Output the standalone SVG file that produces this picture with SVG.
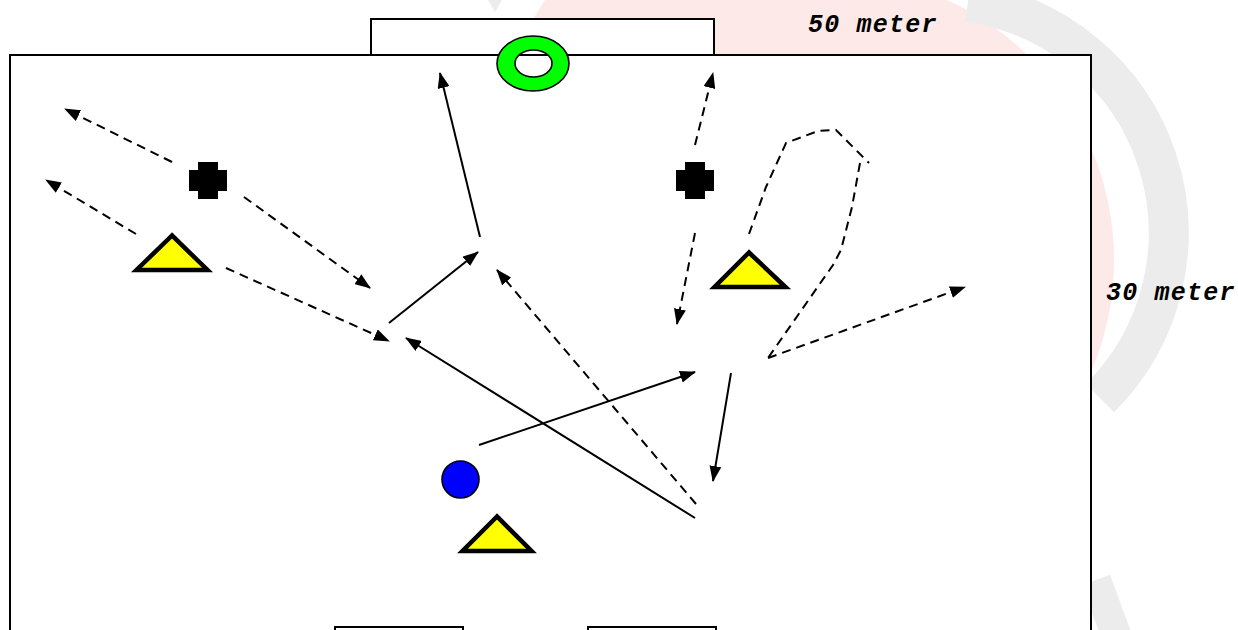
<svg xmlns="http://www.w3.org/2000/svg" width="1238" height="630" viewBox="0 0 1238 630">
<defs>
<style>
.ln{fill:none;stroke:#000;stroke-width:2}
.ds{fill:none;stroke:#000;stroke-width:2;stroke-dasharray:9 6}
.ar{marker-end:url(#ah)}
.tri{fill:#ffff00;stroke:#000;stroke-width:4.5;stroke-linejoin:miter}
.crs{fill:#000}
.box{fill:#fff;stroke:#000;stroke-width:2}
.lbl{font-family:"Liberation Mono","Courier New",monospace;font-weight:bold;font-style:italic;font-size:25px;letter-spacing:1.2px;fill:#000}
</style>
<marker id="ah" viewBox="0 0 16 12" refX="15" refY="6" markerWidth="16" markerHeight="12" markerUnits="userSpaceOnUse" orient="auto">
<path d="M0,0 L16,6 L0,12 Z" fill="#000"/>
</marker>
</defs>
<rect width="1238" height="630" fill="#fff"/>
<g id="watermark">
<circle cx="828" cy="260" r="286" fill="#fdeae8"/>
<path d="M545,0 L760,0 L700,120 L520,40 Z" fill="#fdeae8"/>
<path d="M488,0 L502,0 L495,12 Z" fill="#ececec"/>
<path d="M968,2 A233,233 0 0 1 1100,398" fill="none" stroke="#ececec" stroke-width="40"/>
<path d="M1096,580 L1118,640" fill="none" stroke="#ececec" stroke-width="30"/>
</g>
<g id="field"><rect class="box" x="10" y="55" width="1081" height="620"/></g>
<g id="goal-top"><rect class="box" x="371" y="19" width="343" height="36"/></g>
<g id="goal-bottom-left"><rect class="box" x="335" y="627" width="128" height="20"/></g>
<g id="goal-bottom-right"><rect class="box" x="588" y="627" width="128" height="20"/></g>
<g id="ring"><path d="M497,63.5 a36,27.5 0 1 0 72,0 a36,27.5 0 1 0 -72,0 Z M515,63.5 a18.5,13.5 0 1 0 37,0 a18.5,13.5 0 1 0 -37,0 Z" fill="#00ff00" fill-rule="evenodd" stroke="#000" stroke-width="1.6"/></g>
<g id="cross-left"><path class="crs" d="M198,162 H218 V170 H227 V191 H218 V199 H198 V191 H189 V170 H198 Z"/></g>
<g id="cross-right"><path class="crs" d="M685,162 H705 V170 H714 V191 H705 V199 H685 V191 H676 V170 H685 Z"/></g>
<g id="cone-left"><polygon class="tri" points="172,235.5 136.5,270 207.5,270"/></g>
<g id="cone-right"><polygon class="tri" points="749,252.5 714.5,287 785.5,287"/></g>
<g id="cone-bottom"><polygon class="tri" points="497,516.5 462.5,551 531.5,551"/></g>
<g id="ball"><circle cx="460.5" cy="479.5" r="18.5" fill="#0000ff" stroke="#000" stroke-width="1.6"/></g>
<g id="connectors">
<line class="ds ar" x1="172" y1="162" x2="65" y2="109"/>
<line class="ds ar" x1="136" y1="234" x2="46" y2="180"/>
<line class="ds ar" x1="244" y1="197" x2="370" y2="288"/>
<line class="ds ar" x1="226" y1="268" x2="389" y2="341"/>
<line class="ln ar" x1="389" y1="323" x2="478" y2="252"/>
<line class="ln ar" x1="480" y1="237" x2="440" y2="73"/>
<line class="ds ar" x1="696" y1="504" x2="497" y2="270"/>
<line class="ln ar" x1="695" y1="518" x2="406" y2="338"/>
<line class="ln ar" x1="479" y1="445" x2="695" y2="372"/>
<line class="ln ar" x1="731" y1="373" x2="713" y2="481"/>
<line class="ds ar" x1="695" y1="145" x2="713" y2="73"/>
<line class="ds ar" x1="695" y1="233" x2="677" y2="324"/>
<path class="ds" d="M749,234 L766,187 L786,143 L818,131 L836,130 L869,163"/>
<path class="ds" d="M860,163 L852,207 L841,250 L833,265 L768,358"/>
<line class="ds ar" x1="768" y1="358" x2="965" y2="287"/>
</g>
<g id="labels">
<text class="lbl" x="808" y="32">50 meter</text>
<text class="lbl" x="1106" y="300">30 meter</text>
</g>
</svg>
